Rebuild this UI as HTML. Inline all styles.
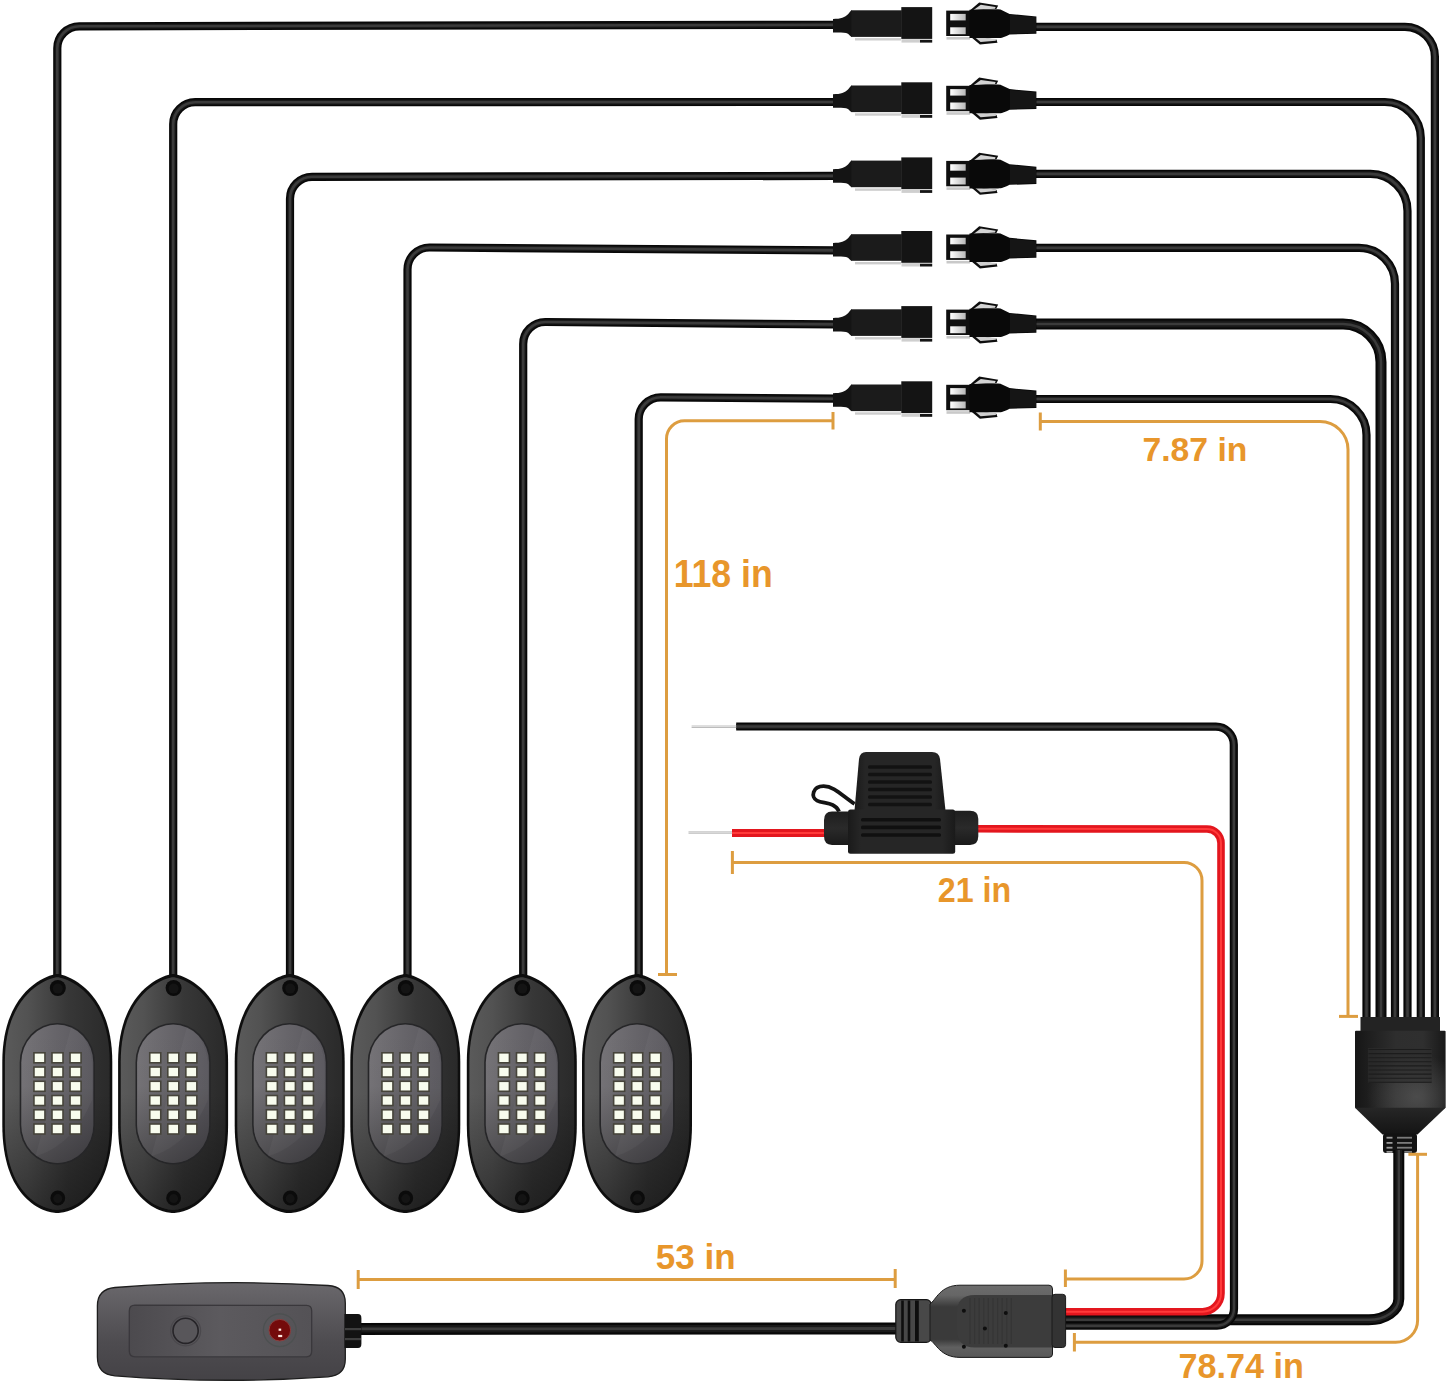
<!DOCTYPE html>
<html><head><meta charset="utf-8"><title>Rock light kit</title>
<style>
html,body{margin:0;padding:0;background:#fff;}
body{width:1448px;height:1383px;overflow:hidden;}
svg{display:block;}
text{font-family:"Liberation Sans",sans-serif;font-weight:bold;fill:#e8962b;}
</style></head><body>
<svg width="1448" height="1383" viewBox="0 0 1448 1383">
<defs>
<linearGradient id="pin" x1="0" y1="0" x2="1" y2="0"><stop offset="0" stop-color="#ffffff"/><stop offset="0.35" stop-color="#e6e6e6"/><stop offset="1" stop-color="#b9b9b9"/></linearGradient>
<linearGradient id="lens" x1="0" y1="0" x2="1" y2="0"><stop offset="0" stop-color="#767478"/><stop offset="0.5" stop-color="#666469"/><stop offset="1" stop-color="#58565c"/></linearGradient>
<linearGradient id="lenssh" x1="0" y1="0" x2="0" y2="1"><stop offset="0" stop-color="#000" stop-opacity="0"/><stop offset="0.45" stop-color="#000" stop-opacity="0.02"/><stop offset="1" stop-color="#000" stop-opacity="0.33"/></linearGradient>
<linearGradient id="pod" x1="0" y1="0" x2="1" y2="0"><stop offset="0" stop-color="#5a5a5a"/><stop offset="0.22" stop-color="#525252"/><stop offset="0.6" stop-color="#373737"/><stop offset="1" stop-color="#2a2a2a"/></linearGradient>
<linearGradient id="podsh" x1="0" y1="0" x2="0" y2="1"><stop offset="0" stop-color="#000" stop-opacity="0"/><stop offset="0.5" stop-color="#000" stop-opacity="0"/><stop offset="1" stop-color="#000" stop-opacity="0.4"/></linearGradient>
<linearGradient id="spl" x1="0" y1="0" x2="1" y2="0"><stop offset="0" stop-color="#161616"/><stop offset="0.45" stop-color="#2e2e2e"/><stop offset="0.75" stop-color="#2f2f2f"/><stop offset="1" stop-color="#181818"/></linearGradient>
<linearGradient id="spl2" x1="0" y1="0" x2="0" y2="1"><stop offset="0" stop-color="#262626"/><stop offset="1" stop-color="#141414"/></linearGradient>
<linearGradient id="fcap" x1="0" y1="0" x2="1" y2="0"><stop offset="0" stop-color="#1a1a1a"/><stop offset="0.12" stop-color="#262626"/><stop offset="0.88" stop-color="#262626"/><stop offset="1" stop-color="#1a1a1a"/></linearGradient>
<linearGradient id="fend" x1="0" y1="0" x2="0" y2="1"><stop offset="0" stop-color="#1e1e1e"/><stop offset="0.5" stop-color="#2a2a2a"/><stop offset="1" stop-color="#1a1a1a"/></linearGradient>
<linearGradient id="rem" x1="0" y1="0" x2="0" y2="1"><stop offset="0" stop-color="#6a686c"/><stop offset="0.25" stop-color="#5e5c60"/><stop offset="0.6" stop-color="#4e4c50"/><stop offset="1" stop-color="#444246"/></linearGradient>
<linearGradient id="remp" x1="0" y1="0" x2="1" y2="0"><stop offset="0" stop-color="#4c4a4e"/><stop offset="0.5" stop-color="#5c5a5e"/><stop offset="1" stop-color="#545256"/></linearGradient>
<linearGradient id="cc" x1="0" y1="0" x2="0" y2="1"><stop offset="0" stop-color="#6c6c6c"/><stop offset="0.14" stop-color="#666"/><stop offset="0.3" stop-color="#3a3a3a"/><stop offset="0.75" stop-color="#3a3a3a"/><stop offset="0.86" stop-color="#606060"/><stop offset="1" stop-color="#585858"/></linearGradient>
<radialGradient id="splhl" cx="0.68" cy="0.85" r="0.55"><stop offset="0" stop-color="#555" stop-opacity="0.75"/><stop offset="1" stop-color="#555" stop-opacity="0"/></radialGradient>
</defs>
<rect width="1448" height="1383" fill="#fff"/>

<path d="M57.3,985 L57.3,48.3 A22,22 0 0 1 79.3,26.3 L836,24.8" fill="none" stroke="#070707" stroke-width="8.2" stroke-linejoin="round"/>
<path d="M57.3,985 L57.3,48.3 A22,22 0 0 1 79.3,26.3 L836,24.8" fill="none" stroke="#191919" stroke-width="5.08" stroke-linejoin="round"/>
<path d="M57.3,985 L57.3,48.3 A22,22 0 0 1 79.3,26.3 L836,24.8" fill="none" stroke="#3b3b3b" stroke-width="2.6" stroke-linejoin="round"/>
<path d="M173.2,985 L173.2,124.2 A22,22 0 0 1 195.2,102.2 L836,102" fill="none" stroke="#070707" stroke-width="8.2" stroke-linejoin="round"/>
<path d="M173.2,985 L173.2,124.2 A22,22 0 0 1 195.2,102.2 L836,102" fill="none" stroke="#191919" stroke-width="5.08" stroke-linejoin="round"/>
<path d="M173.2,985 L173.2,124.2 A22,22 0 0 1 195.2,102.2 L836,102" fill="none" stroke="#3b3b3b" stroke-width="2.6" stroke-linejoin="round"/>
<path d="M290,985 L290,198.8 A22,22 0 0 1 312,176.8 L836,175.9" fill="none" stroke="#070707" stroke-width="8.2" stroke-linejoin="round"/>
<path d="M290,985 L290,198.8 A22,22 0 0 1 312,176.8 L836,175.9" fill="none" stroke="#191919" stroke-width="5.08" stroke-linejoin="round"/>
<path d="M290,985 L290,198.8 A22,22 0 0 1 312,176.8 L836,175.9" fill="none" stroke="#3b3b3b" stroke-width="2.6" stroke-linejoin="round"/>
<path d="M407.5,985 L407.5,269.5 A22,22 0 0 1 429.5,247.5 L836,250.4" fill="none" stroke="#070707" stroke-width="8.2" stroke-linejoin="round"/>
<path d="M407.5,985 L407.5,269.5 A22,22 0 0 1 429.5,247.5 L836,250.4" fill="none" stroke="#191919" stroke-width="5.08" stroke-linejoin="round"/>
<path d="M407.5,985 L407.5,269.5 A22,22 0 0 1 429.5,247.5 L836,250.4" fill="none" stroke="#3b3b3b" stroke-width="2.6" stroke-linejoin="round"/>
<path d="M523.2,985 L523.2,344 A22,22 0 0 1 545.2,322 L836,324.4" fill="none" stroke="#070707" stroke-width="8.2" stroke-linejoin="round"/>
<path d="M523.2,985 L523.2,344 A22,22 0 0 1 545.2,322 L836,324.4" fill="none" stroke="#191919" stroke-width="5.08" stroke-linejoin="round"/>
<path d="M523.2,985 L523.2,344 A22,22 0 0 1 545.2,322 L836,324.4" fill="none" stroke="#3b3b3b" stroke-width="2.6" stroke-linejoin="round"/>
<path d="M638.7,985 L638.7,419.3 A22,22 0 0 1 660.7,397.3 L836,398.7" fill="none" stroke="#070707" stroke-width="8.2" stroke-linejoin="round"/>
<path d="M638.7,985 L638.7,419.3 A22,22 0 0 1 660.7,397.3 L836,398.7" fill="none" stroke="#191919" stroke-width="5.08" stroke-linejoin="round"/>
<path d="M638.7,985 L638.7,419.3 A22,22 0 0 1 660.7,397.3 L836,398.7" fill="none" stroke="#3b3b3b" stroke-width="2.6" stroke-linejoin="round"/>
<path d="M1034,26.8 L1404.9,26.8 A30,30 0 0 1 1434.9,56.8 L1434.9,1025" fill="none" stroke="#070707" stroke-width="8.2" stroke-linejoin="round"/>
<path d="M1034,26.8 L1404.9,26.8 A30,30 0 0 1 1434.9,56.8 L1434.9,1025" fill="none" stroke="#191919" stroke-width="5.08" stroke-linejoin="round"/>
<path d="M1034,26.8 L1404.9,26.8 A30,30 0 0 1 1434.9,56.8 L1434.9,1025" fill="none" stroke="#3b3b3b" stroke-width="2.6" stroke-linejoin="round"/>
<path d="M1034,102 L1384.8,102 A36,36 0 0 1 1420.8,138 L1420.8,1025" fill="none" stroke="#070707" stroke-width="8.2" stroke-linejoin="round"/>
<path d="M1034,102 L1384.8,102 A36,36 0 0 1 1420.8,138 L1420.8,1025" fill="none" stroke="#191919" stroke-width="5.08" stroke-linejoin="round"/>
<path d="M1034,102 L1384.8,102 A36,36 0 0 1 1420.8,138 L1420.8,1025" fill="none" stroke="#3b3b3b" stroke-width="2.6" stroke-linejoin="round"/>
<path d="M1034,173.9 L1370.5,173.9 A37,37 0 0 1 1407.5,210.9 L1407.5,1025" fill="none" stroke="#070707" stroke-width="8.2" stroke-linejoin="round"/>
<path d="M1034,173.9 L1370.5,173.9 A37,37 0 0 1 1407.5,210.9 L1407.5,1025" fill="none" stroke="#191919" stroke-width="5.08" stroke-linejoin="round"/>
<path d="M1034,173.9 L1370.5,173.9 A37,37 0 0 1 1407.5,210.9 L1407.5,1025" fill="none" stroke="#3b3b3b" stroke-width="2.6" stroke-linejoin="round"/>
<path d="M1034,247.8 L1359,247.8 A36,36 0 0 1 1395,283.8 L1395,1025" fill="none" stroke="#070707" stroke-width="8.2" stroke-linejoin="round"/>
<path d="M1034,247.8 L1359,247.8 A36,36 0 0 1 1395,283.8 L1395,1025" fill="none" stroke="#191919" stroke-width="5.08" stroke-linejoin="round"/>
<path d="M1034,247.8 L1359,247.8 A36,36 0 0 1 1395,283.8 L1395,1025" fill="none" stroke="#3b3b3b" stroke-width="2.6" stroke-linejoin="round"/>
<path d="M1034,324 L1343,324 A38,38 0 0 1 1381,362 L1381,1025" fill="none" stroke="#070707" stroke-width="11" stroke-linejoin="round"/>
<path d="M1034,324 L1343,324 A38,38 0 0 1 1381,362 L1381,1025" fill="none" stroke="#191919" stroke-width="6.82" stroke-linejoin="round"/>
<path d="M1034,324 L1343,324 A38,38 0 0 1 1381,362 L1381,1025" fill="none" stroke="#3b3b3b" stroke-width="2.6" stroke-linejoin="round"/>
<path d="M1034,399 L1330.5,399 A36,36 0 0 1 1366.5,435 L1366.5,1025" fill="none" stroke="#070707" stroke-width="8.2" stroke-linejoin="round"/>
<path d="M1034,399 L1330.5,399 A36,36 0 0 1 1366.5,435 L1366.5,1025" fill="none" stroke="#191919" stroke-width="5.08" stroke-linejoin="round"/>
<path d="M1034,399 L1330.5,399 A36,36 0 0 1 1366.5,435 L1366.5,1025" fill="none" stroke="#3b3b3b" stroke-width="2.6" stroke-linejoin="round"/>
<g transform="translate(0,22.8)"><path d="M833,-3.8 C841,-3.8 845,-5.5 848,-8.5 C849.5,-10 850.5,-12.5 852,-12.5 L852,14.1 C850.5,14.1 849.5,12 848,11 C845,9.5 841,9.7 833,9.7 Z" fill="#141414"/><rect x="851.2" y="-12.5" width="50.6" height="26.6" fill="#1b1b1b"/><rect x="855" y="15.3" width="46" height="2.4" fill="#cdcdcd"/><rect x="901.3" y="-15.7" width="30.9" height="31.8" fill="#141414"/><rect x="901.5" y="16.4" width="18.5" height="3.4" fill="#cfcfcf"/><rect x="920" y="17" width="12.2" height="2.8" fill="#151515"/></g>
<g transform="translate(0,23.3)"><path d="M969.5,-12.5 L979.2,-20.9 L998.2,-17.8 L996.4,-14.2 L985,-13.5 L971,-11 Z" fill="#0e0e0e"/><path d="M973.5,-13.2 L980.8,-18.6 L995.6,-16.4 L995,-14.6 Z" fill="#d4d4d4"/><path d="M969.5,12.5 L979.9,21.2 L997.5,19.4 L996.4,16.2 L985,15 L971,11 Z" fill="#0e0e0e"/><path d="M974.5,13.6 L980.6,18.8 L995.8,17.4 L996,15.8 Z" fill="#d0d0d0"/><rect x="946.2" y="-12.7" width="24" height="25.4" fill="#0f0f0f"/><rect x="946.5" y="13.7" width="23.5" height="2.6" fill="#c9c9c9"/><rect x="950.2" y="-9.4" width="15.5" height="6.5" fill="url(#pin)"/><rect x="950.2" y="4" width="15.5" height="6.9" fill="url(#pin)"/><path d="M969.5,-13.6 L998,-14 Q1001,-14 1002,-13 L1009.6,-9.4 L1036.4,-6.9 L1036.4,10.5 L1009.6,11.2 C1004,14 1002,14.8 998,14.8 L969.5,14.8 Z" fill="#090909"/><path d="M1010,-8.5 L1036,-6 L1036,9.5 L1010,10.5 Z" fill="#151515"/></g>
<g transform="translate(0,98)"><path d="M833,-3.8 C841,-3.8 845,-5.5 848,-8.5 C849.5,-10 850.5,-12.5 852,-12.5 L852,14.1 C850.5,14.1 849.5,12 848,11 C845,9.5 841,9.7 833,9.7 Z" fill="#141414"/><rect x="851.2" y="-12.5" width="50.6" height="26.6" fill="#1b1b1b"/><rect x="855" y="15.3" width="46" height="2.4" fill="#cdcdcd"/><rect x="901.3" y="-15.7" width="30.9" height="31.8" fill="#141414"/><rect x="901.5" y="16.4" width="18.5" height="3.4" fill="#cfcfcf"/><rect x="920" y="17" width="12.2" height="2.8" fill="#151515"/></g>
<g transform="translate(0,98.5)"><path d="M969.5,-12.5 L979.2,-20.9 L998.2,-17.8 L996.4,-14.2 L985,-13.5 L971,-11 Z" fill="#0e0e0e"/><path d="M973.5,-13.2 L980.8,-18.6 L995.6,-16.4 L995,-14.6 Z" fill="#d4d4d4"/><path d="M969.5,12.5 L979.9,21.2 L997.5,19.4 L996.4,16.2 L985,15 L971,11 Z" fill="#0e0e0e"/><path d="M974.5,13.6 L980.6,18.8 L995.8,17.4 L996,15.8 Z" fill="#d0d0d0"/><rect x="946.2" y="-12.7" width="24" height="25.4" fill="#0f0f0f"/><rect x="946.5" y="13.7" width="23.5" height="2.6" fill="#c9c9c9"/><rect x="950.2" y="-9.4" width="15.5" height="6.5" fill="url(#pin)"/><rect x="950.2" y="4" width="15.5" height="6.9" fill="url(#pin)"/><path d="M969.5,-13.6 L998,-14 Q1001,-14 1002,-13 L1009.6,-9.4 L1036.4,-6.9 L1036.4,10.5 L1009.6,11.2 C1004,14 1002,14.8 998,14.8 L969.5,14.8 Z" fill="#090909"/><path d="M1010,-8.5 L1036,-6 L1036,9.5 L1010,10.5 Z" fill="#151515"/></g>
<g transform="translate(0,173.1)"><path d="M833,-3.8 C841,-3.8 845,-5.5 848,-8.5 C849.5,-10 850.5,-12.5 852,-12.5 L852,14.1 C850.5,14.1 849.5,12 848,11 C845,9.5 841,9.7 833,9.7 Z" fill="#141414"/><rect x="851.2" y="-12.5" width="50.6" height="26.6" fill="#1b1b1b"/><rect x="855" y="15.3" width="46" height="2.4" fill="#cdcdcd"/><rect x="901.3" y="-15.7" width="30.9" height="31.8" fill="#141414"/><rect x="901.5" y="16.4" width="18.5" height="3.4" fill="#cfcfcf"/><rect x="920" y="17" width="12.2" height="2.8" fill="#151515"/></g>
<g transform="translate(0,173.6)"><path d="M969.5,-12.5 L979.2,-20.9 L998.2,-17.8 L996.4,-14.2 L985,-13.5 L971,-11 Z" fill="#0e0e0e"/><path d="M973.5,-13.2 L980.8,-18.6 L995.6,-16.4 L995,-14.6 Z" fill="#d4d4d4"/><path d="M969.5,12.5 L979.9,21.2 L997.5,19.4 L996.4,16.2 L985,15 L971,11 Z" fill="#0e0e0e"/><path d="M974.5,13.6 L980.6,18.8 L995.8,17.4 L996,15.8 Z" fill="#d0d0d0"/><rect x="946.2" y="-12.7" width="24" height="25.4" fill="#0f0f0f"/><rect x="946.5" y="13.7" width="23.5" height="2.6" fill="#c9c9c9"/><rect x="950.2" y="-9.4" width="15.5" height="6.5" fill="url(#pin)"/><rect x="950.2" y="4" width="15.5" height="6.9" fill="url(#pin)"/><path d="M969.5,-13.6 L998,-14 Q1001,-14 1002,-13 L1009.6,-9.4 L1036.4,-6.9 L1036.4,10.5 L1009.6,11.2 C1004,14 1002,14.8 998,14.8 L969.5,14.8 Z" fill="#090909"/><path d="M1010,-8.5 L1036,-6 L1036,9.5 L1010,10.5 Z" fill="#151515"/></g>
<g transform="translate(0,246.7)"><path d="M833,-3.8 C841,-3.8 845,-5.5 848,-8.5 C849.5,-10 850.5,-12.5 852,-12.5 L852,14.1 C850.5,14.1 849.5,12 848,11 C845,9.5 841,9.7 833,9.7 Z" fill="#141414"/><rect x="851.2" y="-12.5" width="50.6" height="26.6" fill="#1b1b1b"/><rect x="855" y="15.3" width="46" height="2.4" fill="#cdcdcd"/><rect x="901.3" y="-15.7" width="30.9" height="31.8" fill="#141414"/><rect x="901.5" y="16.4" width="18.5" height="3.4" fill="#cfcfcf"/><rect x="920" y="17" width="12.2" height="2.8" fill="#151515"/></g>
<g transform="translate(0,247.2)"><path d="M969.5,-12.5 L979.2,-20.9 L998.2,-17.8 L996.4,-14.2 L985,-13.5 L971,-11 Z" fill="#0e0e0e"/><path d="M973.5,-13.2 L980.8,-18.6 L995.6,-16.4 L995,-14.6 Z" fill="#d4d4d4"/><path d="M969.5,12.5 L979.9,21.2 L997.5,19.4 L996.4,16.2 L985,15 L971,11 Z" fill="#0e0e0e"/><path d="M974.5,13.6 L980.6,18.8 L995.8,17.4 L996,15.8 Z" fill="#d0d0d0"/><rect x="946.2" y="-12.7" width="24" height="25.4" fill="#0f0f0f"/><rect x="946.5" y="13.7" width="23.5" height="2.6" fill="#c9c9c9"/><rect x="950.2" y="-9.4" width="15.5" height="6.5" fill="url(#pin)"/><rect x="950.2" y="4" width="15.5" height="6.9" fill="url(#pin)"/><path d="M969.5,-13.6 L998,-14 Q1001,-14 1002,-13 L1009.6,-9.4 L1036.4,-6.9 L1036.4,10.5 L1009.6,11.2 C1004,14 1002,14.8 998,14.8 L969.5,14.8 Z" fill="#090909"/><path d="M1010,-8.5 L1036,-6 L1036,9.5 L1010,10.5 Z" fill="#151515"/></g>
<g transform="translate(0,321.8)"><path d="M833,-3.8 C841,-3.8 845,-5.5 848,-8.5 C849.5,-10 850.5,-12.5 852,-12.5 L852,14.1 C850.5,14.1 849.5,12 848,11 C845,9.5 841,9.7 833,9.7 Z" fill="#141414"/><rect x="851.2" y="-12.5" width="50.6" height="26.6" fill="#1b1b1b"/><rect x="855" y="15.3" width="46" height="2.4" fill="#cdcdcd"/><rect x="901.3" y="-15.7" width="30.9" height="31.8" fill="#141414"/><rect x="901.5" y="16.4" width="18.5" height="3.4" fill="#cfcfcf"/><rect x="920" y="17" width="12.2" height="2.8" fill="#151515"/></g>
<g transform="translate(0,322.3)"><path d="M969.5,-12.5 L979.2,-20.9 L998.2,-17.8 L996.4,-14.2 L985,-13.5 L971,-11 Z" fill="#0e0e0e"/><path d="M973.5,-13.2 L980.8,-18.6 L995.6,-16.4 L995,-14.6 Z" fill="#d4d4d4"/><path d="M969.5,12.5 L979.9,21.2 L997.5,19.4 L996.4,16.2 L985,15 L971,11 Z" fill="#0e0e0e"/><path d="M974.5,13.6 L980.6,18.8 L995.8,17.4 L996,15.8 Z" fill="#d0d0d0"/><rect x="946.2" y="-12.7" width="24" height="25.4" fill="#0f0f0f"/><rect x="946.5" y="13.7" width="23.5" height="2.6" fill="#c9c9c9"/><rect x="950.2" y="-9.4" width="15.5" height="6.5" fill="url(#pin)"/><rect x="950.2" y="4" width="15.5" height="6.9" fill="url(#pin)"/><path d="M969.5,-13.6 L998,-14 Q1001,-14 1002,-13 L1009.6,-9.4 L1036.4,-6.9 L1036.4,10.5 L1009.6,11.2 C1004,14 1002,14.8 998,14.8 L969.5,14.8 Z" fill="#090909"/><path d="M1010,-8.5 L1036,-6 L1036,9.5 L1010,10.5 Z" fill="#151515"/></g>
<g transform="translate(0,397)"><path d="M833,-3.8 C841,-3.8 845,-5.5 848,-8.5 C849.5,-10 850.5,-12.5 852,-12.5 L852,14.1 C850.5,14.1 849.5,12 848,11 C845,9.5 841,9.7 833,9.7 Z" fill="#141414"/><rect x="851.2" y="-12.5" width="50.6" height="26.6" fill="#1b1b1b"/><rect x="855" y="15.3" width="46" height="2.4" fill="#cdcdcd"/><rect x="901.3" y="-15.7" width="30.9" height="31.8" fill="#141414"/><rect x="901.5" y="16.4" width="18.5" height="3.4" fill="#cfcfcf"/><rect x="920" y="17" width="12.2" height="2.8" fill="#151515"/></g>
<g transform="translate(0,397.5)"><path d="M969.5,-12.5 L979.2,-20.9 L998.2,-17.8 L996.4,-14.2 L985,-13.5 L971,-11 Z" fill="#0e0e0e"/><path d="M973.5,-13.2 L980.8,-18.6 L995.6,-16.4 L995,-14.6 Z" fill="#d4d4d4"/><path d="M969.5,12.5 L979.9,21.2 L997.5,19.4 L996.4,16.2 L985,15 L971,11 Z" fill="#0e0e0e"/><path d="M974.5,13.6 L980.6,18.8 L995.8,17.4 L996,15.8 Z" fill="#d0d0d0"/><rect x="946.2" y="-12.7" width="24" height="25.4" fill="#0f0f0f"/><rect x="946.5" y="13.7" width="23.5" height="2.6" fill="#c9c9c9"/><rect x="950.2" y="-9.4" width="15.5" height="6.5" fill="url(#pin)"/><rect x="950.2" y="4" width="15.5" height="6.9" fill="url(#pin)"/><path d="M969.5,-13.6 L998,-14 Q1001,-14 1002,-13 L1009.6,-9.4 L1036.4,-6.9 L1036.4,10.5 L1009.6,11.2 C1004,14 1002,14.8 998,14.8 L969.5,14.8 Z" fill="#090909"/><path d="M1010,-8.5 L1036,-6 L1036,9.5 L1010,10.5 Z" fill="#151515"/></g>
<path d="M2.299999999999997,1062.0 C2.299999999999997,988.0 50.3,974.0 57.3,974.0 C64.3,974.0 112.3,988.0 112.3,1062.0 L112.3,1125.0 C112.3,1199.0 71.3,1213.0 57.3,1213.0 C43.3,1213.0 2.299999999999997,1199.0 2.299999999999997,1125.0 Z" fill="#0e0e0e"/><path d="M4.899999999999999,1062.0 C4.899999999999999,991.0 50.3,977.2 57.3,977.2 C64.3,977.2 109.69999999999999,991.0 109.69999999999999,1062.0 L109.69999999999999,1125.0 C109.69999999999999,1196.0 71.3,1209.8 57.3,1209.8 C43.3,1209.8 4.899999999999999,1196.0 4.899999999999999,1125.0 Z" fill="url(#pod)"/><path d="M4.899999999999999,1062.0 C4.899999999999999,991.0 50.3,977.2 57.3,977.2 C64.3,977.2 109.69999999999999,991.0 109.69999999999999,1062.0 L109.69999999999999,1125.0 C109.69999999999999,1196.0 71.3,1209.8 57.3,1209.8 C43.3,1209.8 4.899999999999999,1196.0 4.899999999999999,1125.0 Z" fill="url(#podsh)"/><circle cx="57.8" cy="988" r="8" fill="#0b0b0b"/><circle cx="57.8" cy="988.6" r="5" fill="#141414"/><circle cx="57.8" cy="1198" r="7.4" fill="#0b0b0b"/><circle cx="57.8" cy="1198.6" r="4.5" fill="#141414"/><rect x="19.699999999999996" y="1022.9" width="75.2" height="141.7" rx="37.6" ry="39.6" fill="#262628"/><rect x="21.299999999999997" y="1024.5" width="72" height="138.5" rx="36" ry="38" fill="url(#lens)"/><rect x="21.299999999999997" y="1024.5" width="72" height="138.5" rx="36" ry="38" fill="url(#lenssh)"/><path d="M71.3,1026.5 C87.3,1034.5 92.3,1054.5 92.3,1069.5 L92.3,1099.5 C77.3,1134.5 57.3,1149.5 35.3,1156.5 Z" fill="#fff" opacity="0.035"/><rect x="33.15" y="1052.00" width="12.6" height="11.6" fill="#46443a"/><rect x="34.75" y="1053.60" width="9.4" height="8.4" fill="#f8fcee"/><rect x="51.20" y="1052.00" width="12.6" height="11.6" fill="#46443a"/><rect x="52.80" y="1053.60" width="9.4" height="8.4" fill="#f8fcee"/><rect x="69.25" y="1052.00" width="12.6" height="11.6" fill="#46443a"/><rect x="70.85" y="1053.60" width="9.4" height="8.4" fill="#f8fcee"/><rect x="33.15" y="1066.24" width="12.6" height="11.6" fill="#46443a"/><rect x="34.75" y="1067.84" width="9.4" height="8.4" fill="#f8fcee"/><rect x="51.20" y="1066.24" width="12.6" height="11.6" fill="#46443a"/><rect x="52.80" y="1067.84" width="9.4" height="8.4" fill="#f8fcee"/><rect x="69.25" y="1066.24" width="12.6" height="11.6" fill="#46443a"/><rect x="70.85" y="1067.84" width="9.4" height="8.4" fill="#f8fcee"/><rect x="33.15" y="1080.48" width="12.6" height="11.6" fill="#46443a"/><rect x="34.75" y="1082.08" width="9.4" height="8.4" fill="#f8fcee"/><rect x="51.20" y="1080.48" width="12.6" height="11.6" fill="#46443a"/><rect x="52.80" y="1082.08" width="9.4" height="8.4" fill="#f8fcee"/><rect x="69.25" y="1080.48" width="12.6" height="11.6" fill="#46443a"/><rect x="70.85" y="1082.08" width="9.4" height="8.4" fill="#f8fcee"/><rect x="33.15" y="1094.72" width="12.6" height="11.6" fill="#46443a"/><rect x="34.75" y="1096.32" width="9.4" height="8.4" fill="#f8fcee"/><rect x="51.20" y="1094.72" width="12.6" height="11.6" fill="#46443a"/><rect x="52.80" y="1096.32" width="9.4" height="8.4" fill="#f8fcee"/><rect x="69.25" y="1094.72" width="12.6" height="11.6" fill="#46443a"/><rect x="70.85" y="1096.32" width="9.4" height="8.4" fill="#f8fcee"/><rect x="33.15" y="1108.96" width="12.6" height="11.6" fill="#46443a"/><rect x="34.75" y="1110.56" width="9.4" height="8.4" fill="#f8fcee"/><rect x="51.20" y="1108.96" width="12.6" height="11.6" fill="#46443a"/><rect x="52.80" y="1110.56" width="9.4" height="8.4" fill="#f8fcee"/><rect x="69.25" y="1108.96" width="12.6" height="11.6" fill="#46443a"/><rect x="70.85" y="1110.56" width="9.4" height="8.4" fill="#f8fcee"/><rect x="33.15" y="1123.20" width="12.6" height="11.6" fill="#46443a"/><rect x="34.75" y="1124.80" width="9.4" height="8.4" fill="#f8fcee"/><rect x="51.20" y="1123.20" width="12.6" height="11.6" fill="#46443a"/><rect x="52.80" y="1124.80" width="9.4" height="8.4" fill="#f8fcee"/><rect x="69.25" y="1123.20" width="12.6" height="11.6" fill="#46443a"/><rect x="70.85" y="1124.80" width="9.4" height="8.4" fill="#f8fcee"/>
<path d="M118.1,1062.0 C118.1,988.0 166.1,974.0 173.1,974.0 C180.1,974.0 228.1,988.0 228.1,1062.0 L228.1,1125.0 C228.1,1199.0 187.1,1213.0 173.1,1213.0 C159.1,1213.0 118.1,1199.0 118.1,1125.0 Z" fill="#0e0e0e"/><path d="M120.69999999999999,1062.0 C120.69999999999999,991.0 166.1,977.2 173.1,977.2 C180.1,977.2 225.5,991.0 225.5,1062.0 L225.5,1125.0 C225.5,1196.0 187.1,1209.8 173.1,1209.8 C159.1,1209.8 120.69999999999999,1196.0 120.69999999999999,1125.0 Z" fill="url(#pod)"/><path d="M120.69999999999999,1062.0 C120.69999999999999,991.0 166.1,977.2 173.1,977.2 C180.1,977.2 225.5,991.0 225.5,1062.0 L225.5,1125.0 C225.5,1196.0 187.1,1209.8 173.1,1209.8 C159.1,1209.8 120.69999999999999,1196.0 120.69999999999999,1125.0 Z" fill="url(#podsh)"/><circle cx="173.6" cy="988" r="8" fill="#0b0b0b"/><circle cx="173.6" cy="988.6" r="5" fill="#141414"/><circle cx="173.6" cy="1198" r="7.4" fill="#0b0b0b"/><circle cx="173.6" cy="1198.6" r="4.5" fill="#141414"/><rect x="135.5" y="1022.9" width="75.2" height="141.7" rx="37.6" ry="39.6" fill="#262628"/><rect x="137.1" y="1024.5" width="72" height="138.5" rx="36" ry="38" fill="url(#lens)"/><rect x="137.1" y="1024.5" width="72" height="138.5" rx="36" ry="38" fill="url(#lenssh)"/><path d="M187.1,1026.5 C203.1,1034.5 208.1,1054.5 208.1,1069.5 L208.1,1099.5 C193.1,1134.5 173.1,1149.5 151.1,1156.5 Z" fill="#fff" opacity="0.035"/><rect x="148.95" y="1052.00" width="12.6" height="11.6" fill="#46443a"/><rect x="150.55" y="1053.60" width="9.4" height="8.4" fill="#f8fcee"/><rect x="167.00" y="1052.00" width="12.6" height="11.6" fill="#46443a"/><rect x="168.60" y="1053.60" width="9.4" height="8.4" fill="#f8fcee"/><rect x="185.05" y="1052.00" width="12.6" height="11.6" fill="#46443a"/><rect x="186.65" y="1053.60" width="9.4" height="8.4" fill="#f8fcee"/><rect x="148.95" y="1066.24" width="12.6" height="11.6" fill="#46443a"/><rect x="150.55" y="1067.84" width="9.4" height="8.4" fill="#f8fcee"/><rect x="167.00" y="1066.24" width="12.6" height="11.6" fill="#46443a"/><rect x="168.60" y="1067.84" width="9.4" height="8.4" fill="#f8fcee"/><rect x="185.05" y="1066.24" width="12.6" height="11.6" fill="#46443a"/><rect x="186.65" y="1067.84" width="9.4" height="8.4" fill="#f8fcee"/><rect x="148.95" y="1080.48" width="12.6" height="11.6" fill="#46443a"/><rect x="150.55" y="1082.08" width="9.4" height="8.4" fill="#f8fcee"/><rect x="167.00" y="1080.48" width="12.6" height="11.6" fill="#46443a"/><rect x="168.60" y="1082.08" width="9.4" height="8.4" fill="#f8fcee"/><rect x="185.05" y="1080.48" width="12.6" height="11.6" fill="#46443a"/><rect x="186.65" y="1082.08" width="9.4" height="8.4" fill="#f8fcee"/><rect x="148.95" y="1094.72" width="12.6" height="11.6" fill="#46443a"/><rect x="150.55" y="1096.32" width="9.4" height="8.4" fill="#f8fcee"/><rect x="167.00" y="1094.72" width="12.6" height="11.6" fill="#46443a"/><rect x="168.60" y="1096.32" width="9.4" height="8.4" fill="#f8fcee"/><rect x="185.05" y="1094.72" width="12.6" height="11.6" fill="#46443a"/><rect x="186.65" y="1096.32" width="9.4" height="8.4" fill="#f8fcee"/><rect x="148.95" y="1108.96" width="12.6" height="11.6" fill="#46443a"/><rect x="150.55" y="1110.56" width="9.4" height="8.4" fill="#f8fcee"/><rect x="167.00" y="1108.96" width="12.6" height="11.6" fill="#46443a"/><rect x="168.60" y="1110.56" width="9.4" height="8.4" fill="#f8fcee"/><rect x="185.05" y="1108.96" width="12.6" height="11.6" fill="#46443a"/><rect x="186.65" y="1110.56" width="9.4" height="8.4" fill="#f8fcee"/><rect x="148.95" y="1123.20" width="12.6" height="11.6" fill="#46443a"/><rect x="150.55" y="1124.80" width="9.4" height="8.4" fill="#f8fcee"/><rect x="167.00" y="1123.20" width="12.6" height="11.6" fill="#46443a"/><rect x="168.60" y="1124.80" width="9.4" height="8.4" fill="#f8fcee"/><rect x="185.05" y="1123.20" width="12.6" height="11.6" fill="#46443a"/><rect x="186.65" y="1124.80" width="9.4" height="8.4" fill="#f8fcee"/>
<path d="M234.7,1062.0 C234.7,988.0 282.7,974.0 289.7,974.0 C296.7,974.0 344.7,988.0 344.7,1062.0 L344.7,1125.0 C344.7,1199.0 303.7,1213.0 289.7,1213.0 C275.7,1213.0 234.7,1199.0 234.7,1125.0 Z" fill="#0e0e0e"/><path d="M237.29999999999998,1062.0 C237.29999999999998,991.0 282.7,977.2 289.7,977.2 C296.7,977.2 342.09999999999997,991.0 342.09999999999997,1062.0 L342.09999999999997,1125.0 C342.09999999999997,1196.0 303.7,1209.8 289.7,1209.8 C275.7,1209.8 237.29999999999998,1196.0 237.29999999999998,1125.0 Z" fill="url(#pod)"/><path d="M237.29999999999998,1062.0 C237.29999999999998,991.0 282.7,977.2 289.7,977.2 C296.7,977.2 342.09999999999997,991.0 342.09999999999997,1062.0 L342.09999999999997,1125.0 C342.09999999999997,1196.0 303.7,1209.8 289.7,1209.8 C275.7,1209.8 237.29999999999998,1196.0 237.29999999999998,1125.0 Z" fill="url(#podsh)"/><circle cx="290.2" cy="988" r="8" fill="#0b0b0b"/><circle cx="290.2" cy="988.6" r="5" fill="#141414"/><circle cx="290.2" cy="1198" r="7.4" fill="#0b0b0b"/><circle cx="290.2" cy="1198.6" r="4.5" fill="#141414"/><rect x="252.1" y="1022.9" width="75.2" height="141.7" rx="37.6" ry="39.6" fill="#262628"/><rect x="253.7" y="1024.5" width="72" height="138.5" rx="36" ry="38" fill="url(#lens)"/><rect x="253.7" y="1024.5" width="72" height="138.5" rx="36" ry="38" fill="url(#lenssh)"/><path d="M303.7,1026.5 C319.7,1034.5 324.7,1054.5 324.7,1069.5 L324.7,1099.5 C309.7,1134.5 289.7,1149.5 267.7,1156.5 Z" fill="#fff" opacity="0.035"/><rect x="265.55" y="1052.00" width="12.6" height="11.6" fill="#46443a"/><rect x="267.15" y="1053.60" width="9.4" height="8.4" fill="#f8fcee"/><rect x="283.60" y="1052.00" width="12.6" height="11.6" fill="#46443a"/><rect x="285.20" y="1053.60" width="9.4" height="8.4" fill="#f8fcee"/><rect x="301.65" y="1052.00" width="12.6" height="11.6" fill="#46443a"/><rect x="303.25" y="1053.60" width="9.4" height="8.4" fill="#f8fcee"/><rect x="265.55" y="1066.24" width="12.6" height="11.6" fill="#46443a"/><rect x="267.15" y="1067.84" width="9.4" height="8.4" fill="#f8fcee"/><rect x="283.60" y="1066.24" width="12.6" height="11.6" fill="#46443a"/><rect x="285.20" y="1067.84" width="9.4" height="8.4" fill="#f8fcee"/><rect x="301.65" y="1066.24" width="12.6" height="11.6" fill="#46443a"/><rect x="303.25" y="1067.84" width="9.4" height="8.4" fill="#f8fcee"/><rect x="265.55" y="1080.48" width="12.6" height="11.6" fill="#46443a"/><rect x="267.15" y="1082.08" width="9.4" height="8.4" fill="#f8fcee"/><rect x="283.60" y="1080.48" width="12.6" height="11.6" fill="#46443a"/><rect x="285.20" y="1082.08" width="9.4" height="8.4" fill="#f8fcee"/><rect x="301.65" y="1080.48" width="12.6" height="11.6" fill="#46443a"/><rect x="303.25" y="1082.08" width="9.4" height="8.4" fill="#f8fcee"/><rect x="265.55" y="1094.72" width="12.6" height="11.6" fill="#46443a"/><rect x="267.15" y="1096.32" width="9.4" height="8.4" fill="#f8fcee"/><rect x="283.60" y="1094.72" width="12.6" height="11.6" fill="#46443a"/><rect x="285.20" y="1096.32" width="9.4" height="8.4" fill="#f8fcee"/><rect x="301.65" y="1094.72" width="12.6" height="11.6" fill="#46443a"/><rect x="303.25" y="1096.32" width="9.4" height="8.4" fill="#f8fcee"/><rect x="265.55" y="1108.96" width="12.6" height="11.6" fill="#46443a"/><rect x="267.15" y="1110.56" width="9.4" height="8.4" fill="#f8fcee"/><rect x="283.60" y="1108.96" width="12.6" height="11.6" fill="#46443a"/><rect x="285.20" y="1110.56" width="9.4" height="8.4" fill="#f8fcee"/><rect x="301.65" y="1108.96" width="12.6" height="11.6" fill="#46443a"/><rect x="303.25" y="1110.56" width="9.4" height="8.4" fill="#f8fcee"/><rect x="265.55" y="1123.20" width="12.6" height="11.6" fill="#46443a"/><rect x="267.15" y="1124.80" width="9.4" height="8.4" fill="#f8fcee"/><rect x="283.60" y="1123.20" width="12.6" height="11.6" fill="#46443a"/><rect x="285.20" y="1124.80" width="9.4" height="8.4" fill="#f8fcee"/><rect x="301.65" y="1123.20" width="12.6" height="11.6" fill="#46443a"/><rect x="303.25" y="1124.80" width="9.4" height="8.4" fill="#f8fcee"/>
<path d="M350.3,1062.0 C350.3,988.0 398.3,974.0 405.3,974.0 C412.3,974.0 460.3,988.0 460.3,1062.0 L460.3,1125.0 C460.3,1199.0 419.3,1213.0 405.3,1213.0 C391.3,1213.0 350.3,1199.0 350.3,1125.0 Z" fill="#0e0e0e"/><path d="M352.90000000000003,1062.0 C352.90000000000003,991.0 398.3,977.2 405.3,977.2 C412.3,977.2 457.7,991.0 457.7,1062.0 L457.7,1125.0 C457.7,1196.0 419.3,1209.8 405.3,1209.8 C391.3,1209.8 352.90000000000003,1196.0 352.90000000000003,1125.0 Z" fill="url(#pod)"/><path d="M352.90000000000003,1062.0 C352.90000000000003,991.0 398.3,977.2 405.3,977.2 C412.3,977.2 457.7,991.0 457.7,1062.0 L457.7,1125.0 C457.7,1196.0 419.3,1209.8 405.3,1209.8 C391.3,1209.8 352.90000000000003,1196.0 352.90000000000003,1125.0 Z" fill="url(#podsh)"/><circle cx="405.8" cy="988" r="8" fill="#0b0b0b"/><circle cx="405.8" cy="988.6" r="5" fill="#141414"/><circle cx="405.8" cy="1198" r="7.4" fill="#0b0b0b"/><circle cx="405.8" cy="1198.6" r="4.5" fill="#141414"/><rect x="367.7" y="1022.9" width="75.2" height="141.7" rx="37.6" ry="39.6" fill="#262628"/><rect x="369.3" y="1024.5" width="72" height="138.5" rx="36" ry="38" fill="url(#lens)"/><rect x="369.3" y="1024.5" width="72" height="138.5" rx="36" ry="38" fill="url(#lenssh)"/><path d="M419.3,1026.5 C435.3,1034.5 440.3,1054.5 440.3,1069.5 L440.3,1099.5 C425.3,1134.5 405.3,1149.5 383.3,1156.5 Z" fill="#fff" opacity="0.035"/><rect x="381.15" y="1052.00" width="12.6" height="11.6" fill="#46443a"/><rect x="382.75" y="1053.60" width="9.4" height="8.4" fill="#f8fcee"/><rect x="399.20" y="1052.00" width="12.6" height="11.6" fill="#46443a"/><rect x="400.80" y="1053.60" width="9.4" height="8.4" fill="#f8fcee"/><rect x="417.25" y="1052.00" width="12.6" height="11.6" fill="#46443a"/><rect x="418.85" y="1053.60" width="9.4" height="8.4" fill="#f8fcee"/><rect x="381.15" y="1066.24" width="12.6" height="11.6" fill="#46443a"/><rect x="382.75" y="1067.84" width="9.4" height="8.4" fill="#f8fcee"/><rect x="399.20" y="1066.24" width="12.6" height="11.6" fill="#46443a"/><rect x="400.80" y="1067.84" width="9.4" height="8.4" fill="#f8fcee"/><rect x="417.25" y="1066.24" width="12.6" height="11.6" fill="#46443a"/><rect x="418.85" y="1067.84" width="9.4" height="8.4" fill="#f8fcee"/><rect x="381.15" y="1080.48" width="12.6" height="11.6" fill="#46443a"/><rect x="382.75" y="1082.08" width="9.4" height="8.4" fill="#f8fcee"/><rect x="399.20" y="1080.48" width="12.6" height="11.6" fill="#46443a"/><rect x="400.80" y="1082.08" width="9.4" height="8.4" fill="#f8fcee"/><rect x="417.25" y="1080.48" width="12.6" height="11.6" fill="#46443a"/><rect x="418.85" y="1082.08" width="9.4" height="8.4" fill="#f8fcee"/><rect x="381.15" y="1094.72" width="12.6" height="11.6" fill="#46443a"/><rect x="382.75" y="1096.32" width="9.4" height="8.4" fill="#f8fcee"/><rect x="399.20" y="1094.72" width="12.6" height="11.6" fill="#46443a"/><rect x="400.80" y="1096.32" width="9.4" height="8.4" fill="#f8fcee"/><rect x="417.25" y="1094.72" width="12.6" height="11.6" fill="#46443a"/><rect x="418.85" y="1096.32" width="9.4" height="8.4" fill="#f8fcee"/><rect x="381.15" y="1108.96" width="12.6" height="11.6" fill="#46443a"/><rect x="382.75" y="1110.56" width="9.4" height="8.4" fill="#f8fcee"/><rect x="399.20" y="1108.96" width="12.6" height="11.6" fill="#46443a"/><rect x="400.80" y="1110.56" width="9.4" height="8.4" fill="#f8fcee"/><rect x="417.25" y="1108.96" width="12.6" height="11.6" fill="#46443a"/><rect x="418.85" y="1110.56" width="9.4" height="8.4" fill="#f8fcee"/><rect x="381.15" y="1123.20" width="12.6" height="11.6" fill="#46443a"/><rect x="382.75" y="1124.80" width="9.4" height="8.4" fill="#f8fcee"/><rect x="399.20" y="1123.20" width="12.6" height="11.6" fill="#46443a"/><rect x="400.80" y="1124.80" width="9.4" height="8.4" fill="#f8fcee"/><rect x="417.25" y="1123.20" width="12.6" height="11.6" fill="#46443a"/><rect x="418.85" y="1124.80" width="9.4" height="8.4" fill="#f8fcee"/>
<path d="M466.79999999999995,1062.0 C466.79999999999995,988.0 514.8,974.0 521.8,974.0 C528.8,974.0 576.8,988.0 576.8,1062.0 L576.8,1125.0 C576.8,1199.0 535.8,1213.0 521.8,1213.0 C507.79999999999995,1213.0 466.79999999999995,1199.0 466.79999999999995,1125.0 Z" fill="#0e0e0e"/><path d="M469.4,1062.0 C469.4,991.0 514.8,977.2 521.8,977.2 C528.8,977.2 574.1999999999999,991.0 574.1999999999999,1062.0 L574.1999999999999,1125.0 C574.1999999999999,1196.0 535.8,1209.8 521.8,1209.8 C507.79999999999995,1209.8 469.4,1196.0 469.4,1125.0 Z" fill="url(#pod)"/><path d="M469.4,1062.0 C469.4,991.0 514.8,977.2 521.8,977.2 C528.8,977.2 574.1999999999999,991.0 574.1999999999999,1062.0 L574.1999999999999,1125.0 C574.1999999999999,1196.0 535.8,1209.8 521.8,1209.8 C507.79999999999995,1209.8 469.4,1196.0 469.4,1125.0 Z" fill="url(#podsh)"/><circle cx="522.3" cy="988" r="8" fill="#0b0b0b"/><circle cx="522.3" cy="988.6" r="5" fill="#141414"/><circle cx="522.3" cy="1198" r="7.4" fill="#0b0b0b"/><circle cx="522.3" cy="1198.6" r="4.5" fill="#141414"/><rect x="484.19999999999993" y="1022.9" width="75.2" height="141.7" rx="37.6" ry="39.6" fill="#262628"/><rect x="485.79999999999995" y="1024.5" width="72" height="138.5" rx="36" ry="38" fill="url(#lens)"/><rect x="485.79999999999995" y="1024.5" width="72" height="138.5" rx="36" ry="38" fill="url(#lenssh)"/><path d="M535.8,1026.5 C551.8,1034.5 556.8,1054.5 556.8,1069.5 L556.8,1099.5 C541.8,1134.5 521.8,1149.5 499.79999999999995,1156.5 Z" fill="#fff" opacity="0.035"/><rect x="497.65" y="1052.00" width="12.6" height="11.6" fill="#46443a"/><rect x="499.25" y="1053.60" width="9.4" height="8.4" fill="#f8fcee"/><rect x="515.70" y="1052.00" width="12.6" height="11.6" fill="#46443a"/><rect x="517.30" y="1053.60" width="9.4" height="8.4" fill="#f8fcee"/><rect x="533.75" y="1052.00" width="12.6" height="11.6" fill="#46443a"/><rect x="535.35" y="1053.60" width="9.4" height="8.4" fill="#f8fcee"/><rect x="497.65" y="1066.24" width="12.6" height="11.6" fill="#46443a"/><rect x="499.25" y="1067.84" width="9.4" height="8.4" fill="#f8fcee"/><rect x="515.70" y="1066.24" width="12.6" height="11.6" fill="#46443a"/><rect x="517.30" y="1067.84" width="9.4" height="8.4" fill="#f8fcee"/><rect x="533.75" y="1066.24" width="12.6" height="11.6" fill="#46443a"/><rect x="535.35" y="1067.84" width="9.4" height="8.4" fill="#f8fcee"/><rect x="497.65" y="1080.48" width="12.6" height="11.6" fill="#46443a"/><rect x="499.25" y="1082.08" width="9.4" height="8.4" fill="#f8fcee"/><rect x="515.70" y="1080.48" width="12.6" height="11.6" fill="#46443a"/><rect x="517.30" y="1082.08" width="9.4" height="8.4" fill="#f8fcee"/><rect x="533.75" y="1080.48" width="12.6" height="11.6" fill="#46443a"/><rect x="535.35" y="1082.08" width="9.4" height="8.4" fill="#f8fcee"/><rect x="497.65" y="1094.72" width="12.6" height="11.6" fill="#46443a"/><rect x="499.25" y="1096.32" width="9.4" height="8.4" fill="#f8fcee"/><rect x="515.70" y="1094.72" width="12.6" height="11.6" fill="#46443a"/><rect x="517.30" y="1096.32" width="9.4" height="8.4" fill="#f8fcee"/><rect x="533.75" y="1094.72" width="12.6" height="11.6" fill="#46443a"/><rect x="535.35" y="1096.32" width="9.4" height="8.4" fill="#f8fcee"/><rect x="497.65" y="1108.96" width="12.6" height="11.6" fill="#46443a"/><rect x="499.25" y="1110.56" width="9.4" height="8.4" fill="#f8fcee"/><rect x="515.70" y="1108.96" width="12.6" height="11.6" fill="#46443a"/><rect x="517.30" y="1110.56" width="9.4" height="8.4" fill="#f8fcee"/><rect x="533.75" y="1108.96" width="12.6" height="11.6" fill="#46443a"/><rect x="535.35" y="1110.56" width="9.4" height="8.4" fill="#f8fcee"/><rect x="497.65" y="1123.20" width="12.6" height="11.6" fill="#46443a"/><rect x="499.25" y="1124.80" width="9.4" height="8.4" fill="#f8fcee"/><rect x="515.70" y="1123.20" width="12.6" height="11.6" fill="#46443a"/><rect x="517.30" y="1124.80" width="9.4" height="8.4" fill="#f8fcee"/><rect x="533.75" y="1123.20" width="12.6" height="11.6" fill="#46443a"/><rect x="535.35" y="1124.80" width="9.4" height="8.4" fill="#f8fcee"/>
<path d="M582,1062.0 C582,988.0 630,974.0 637,974.0 C644,974.0 692,988.0 692,1062.0 L692,1125.0 C692,1199.0 651,1213.0 637,1213.0 C623,1213.0 582,1199.0 582,1125.0 Z" fill="#0e0e0e"/><path d="M584.6,1062.0 C584.6,991.0 630,977.2 637,977.2 C644,977.2 689.4,991.0 689.4,1062.0 L689.4,1125.0 C689.4,1196.0 651,1209.8 637,1209.8 C623,1209.8 584.6,1196.0 584.6,1125.0 Z" fill="url(#pod)"/><path d="M584.6,1062.0 C584.6,991.0 630,977.2 637,977.2 C644,977.2 689.4,991.0 689.4,1062.0 L689.4,1125.0 C689.4,1196.0 651,1209.8 637,1209.8 C623,1209.8 584.6,1196.0 584.6,1125.0 Z" fill="url(#podsh)"/><circle cx="637.5" cy="988" r="8" fill="#0b0b0b"/><circle cx="637.5" cy="988.6" r="5" fill="#141414"/><circle cx="637.5" cy="1198" r="7.4" fill="#0b0b0b"/><circle cx="637.5" cy="1198.6" r="4.5" fill="#141414"/><rect x="599.4" y="1022.9" width="75.2" height="141.7" rx="37.6" ry="39.6" fill="#262628"/><rect x="601.0" y="1024.5" width="72" height="138.5" rx="36" ry="38" fill="url(#lens)"/><rect x="601.0" y="1024.5" width="72" height="138.5" rx="36" ry="38" fill="url(#lenssh)"/><path d="M651,1026.5 C667,1034.5 672,1054.5 672,1069.5 L672,1099.5 C657,1134.5 637,1149.5 615,1156.5 Z" fill="#fff" opacity="0.035"/><rect x="612.85" y="1052.00" width="12.6" height="11.6" fill="#46443a"/><rect x="614.45" y="1053.60" width="9.4" height="8.4" fill="#f8fcee"/><rect x="630.90" y="1052.00" width="12.6" height="11.6" fill="#46443a"/><rect x="632.50" y="1053.60" width="9.4" height="8.4" fill="#f8fcee"/><rect x="648.95" y="1052.00" width="12.6" height="11.6" fill="#46443a"/><rect x="650.55" y="1053.60" width="9.4" height="8.4" fill="#f8fcee"/><rect x="612.85" y="1066.24" width="12.6" height="11.6" fill="#46443a"/><rect x="614.45" y="1067.84" width="9.4" height="8.4" fill="#f8fcee"/><rect x="630.90" y="1066.24" width="12.6" height="11.6" fill="#46443a"/><rect x="632.50" y="1067.84" width="9.4" height="8.4" fill="#f8fcee"/><rect x="648.95" y="1066.24" width="12.6" height="11.6" fill="#46443a"/><rect x="650.55" y="1067.84" width="9.4" height="8.4" fill="#f8fcee"/><rect x="612.85" y="1080.48" width="12.6" height="11.6" fill="#46443a"/><rect x="614.45" y="1082.08" width="9.4" height="8.4" fill="#f8fcee"/><rect x="630.90" y="1080.48" width="12.6" height="11.6" fill="#46443a"/><rect x="632.50" y="1082.08" width="9.4" height="8.4" fill="#f8fcee"/><rect x="648.95" y="1080.48" width="12.6" height="11.6" fill="#46443a"/><rect x="650.55" y="1082.08" width="9.4" height="8.4" fill="#f8fcee"/><rect x="612.85" y="1094.72" width="12.6" height="11.6" fill="#46443a"/><rect x="614.45" y="1096.32" width="9.4" height="8.4" fill="#f8fcee"/><rect x="630.90" y="1094.72" width="12.6" height="11.6" fill="#46443a"/><rect x="632.50" y="1096.32" width="9.4" height="8.4" fill="#f8fcee"/><rect x="648.95" y="1094.72" width="12.6" height="11.6" fill="#46443a"/><rect x="650.55" y="1096.32" width="9.4" height="8.4" fill="#f8fcee"/><rect x="612.85" y="1108.96" width="12.6" height="11.6" fill="#46443a"/><rect x="614.45" y="1110.56" width="9.4" height="8.4" fill="#f8fcee"/><rect x="630.90" y="1108.96" width="12.6" height="11.6" fill="#46443a"/><rect x="632.50" y="1110.56" width="9.4" height="8.4" fill="#f8fcee"/><rect x="648.95" y="1108.96" width="12.6" height="11.6" fill="#46443a"/><rect x="650.55" y="1110.56" width="9.4" height="8.4" fill="#f8fcee"/><rect x="612.85" y="1123.20" width="12.6" height="11.6" fill="#46443a"/><rect x="614.45" y="1124.80" width="9.4" height="8.4" fill="#f8fcee"/><rect x="630.90" y="1123.20" width="12.6" height="11.6" fill="#46443a"/><rect x="632.50" y="1124.80" width="9.4" height="8.4" fill="#f8fcee"/><rect x="648.95" y="1123.20" width="12.6" height="11.6" fill="#46443a"/><rect x="650.55" y="1124.80" width="9.4" height="8.4" fill="#f8fcee"/>
<rect x="1360.5" y="1017" width="79.5" height="14" fill="#232323"/>
<rect x="1355" y="1030.7" width="90.6" height="77.5" rx="1" fill="url(#spl)"/>
<rect x="1355" y="1030.7" width="90.6" height="77.5" rx="1" fill="url(#splhl)"/>
<rect x="1368" y="1048" width="64" height="35" fill="#2e2e2e" opacity="0.6"/>
<line x1="1368.5" y1="1049.5" x2="1431.5" y2="1049.5" stroke="#1c1c1c" stroke-width="1.1"/>
<line x1="1368.5" y1="1053.6" x2="1431.5" y2="1053.6" stroke="#1c1c1c" stroke-width="1.1"/>
<line x1="1368.5" y1="1057.7" x2="1431.5" y2="1057.7" stroke="#1c1c1c" stroke-width="1.1"/>
<line x1="1368.5" y1="1061.8" x2="1431.5" y2="1061.8" stroke="#1c1c1c" stroke-width="1.1"/>
<line x1="1368.5" y1="1065.9" x2="1431.5" y2="1065.9" stroke="#1c1c1c" stroke-width="1.1"/>
<line x1="1368.5" y1="1070.0" x2="1431.5" y2="1070.0" stroke="#1c1c1c" stroke-width="1.1"/>
<line x1="1368.5" y1="1074.1" x2="1431.5" y2="1074.1" stroke="#1c1c1c" stroke-width="1.1"/>
<line x1="1368.5" y1="1078.2" x2="1431.5" y2="1078.2" stroke="#1c1c1c" stroke-width="1.1"/>
<line x1="1368.5" y1="1082.3" x2="1431.5" y2="1082.3" stroke="#1c1c1c" stroke-width="1.1"/>
<path d="M1355,1107.8 L1445.6,1107.8 L1417.5,1134.5 L1382.5,1134.5 Z" fill="url(#spl2)"/>
<rect x="1383" y="1133.5" width="34" height="19.5" rx="3" fill="#121212"/>
<rect x="1386.5" y="1136.8" width="6" height="1.8" fill="#9a9a9a"/><rect x="1397" y="1136.8" width="15" height="1.8" fill="#7a7a7a"/>
<rect x="1386.5" y="1142" width="6" height="1.8" fill="#9a9a9a"/><rect x="1397" y="1142" width="15" height="1.8" fill="#7a7a7a"/>
<rect x="1386.5" y="1146.8" width="6" height="1.8" fill="#9a9a9a"/><rect x="1397" y="1146.8" width="15" height="1.8" fill="#7a7a7a"/>
<rect x="1386.5" y="1151" width="6" height="1.8" fill="#9a9a9a"/><rect x="1397" y="1151" width="15" height="1.8" fill="#7a7a7a"/>
<path d="M1398.8,1150 L1398.8,1299 A30,21 0 0 1 1368.8,1319.8 L1064,1319.8" fill="none" stroke="#070707" stroke-width="11" stroke-linejoin="round"/>
<path d="M1398.8,1150 L1398.8,1299 A30,21 0 0 1 1368.8,1319.8 L1064,1319.8" fill="none" stroke="#191919" stroke-width="6.82" stroke-linejoin="round"/>
<path d="M1398.8,1150 L1398.8,1299 A30,21 0 0 1 1368.8,1319.8 L1064,1319.8" fill="none" stroke="#3b3b3b" stroke-width="2.4" stroke-linejoin="round"/>
<path d="M736.2,726.5 L1215.5,726.7 A18,18 0 0 1 1233.8,745 L1234,1308.7 A17,17 0 0 1 1217,1325.7 L1064,1325.7" fill="none" stroke="#070707" stroke-width="8.2" stroke-linejoin="round"/>
<path d="M736.2,726.5 L1215.5,726.7 A18,18 0 0 1 1233.8,745 L1234,1308.7 A17,17 0 0 1 1217,1325.7 L1064,1325.7" fill="none" stroke="#191919" stroke-width="5.08" stroke-linejoin="round"/>
<path d="M736.2,726.5 L1215.5,726.7 A18,18 0 0 1 1233.8,745 L1234,1308.7 A17,17 0 0 1 1217,1325.7 L1064,1325.7" fill="none" stroke="#3b3b3b" stroke-width="2.4" stroke-linejoin="round"/>
<line x1="691.6" y1="725.9" x2="736.2" y2="725.9" stroke="#d4d4d4" stroke-width="1.3"/><line x1="691.6" y1="727.4" x2="736.2" y2="727.4" stroke="#bcbcbc" stroke-width="1.3"/>
<path d="M977,828.8 L1207,829 A14,14 0 0 1 1221,843 L1221,1293.2 A18.5,18.5 0 0 1 1202.5,1311.7 L1064,1311.7" fill="none" stroke="#e3161e" stroke-width="7.6" stroke-linejoin="round"/>
<path d="M977,828.8 L1207,829 A14,14 0 0 1 1221,843 L1221,1293.2 A18.5,18.5 0 0 1 1202.5,1311.7 L1064,1311.7" fill="none" stroke="#ff3a3a" stroke-width="2" stroke-linejoin="round"/>
<path d="M732,833 L826,833" fill="none" stroke="#e3161e" stroke-width="8"/>
<path d="M732,833 L826,833" fill="none" stroke="#ff3a3a" stroke-width="2.2"/>
<line x1="688.5" y1="831.6" x2="732" y2="831.6" stroke="#d4d4d4" stroke-width="1.3"/><line x1="688.5" y1="833.1" x2="732" y2="833.1" stroke="#bcbcbc" stroke-width="1.3"/>
<path d="M854.6,803.9 C843.5,797.2 834.7,786.2 823.6,786.2 C812.6,786.2 810.4,797.2 817,800.6 C823.6,803.9 834.7,801.7 839.1,811.6" fill="none" stroke="#141414" stroke-width="3.8"/>
<path d="M866,752 L932,752 Q939,752 940,759 L945.5,810.5 L854.5,810.5 L859,759 Q860,752 866,752 Z" fill="url(#fcap)"/>
<rect x="868" y="765.2" width="64" height="3.6" rx="1.5" fill="#111" opacity="0.9"/>
<rect x="868" y="772.7" width="64" height="3.6" rx="1.5" fill="#111" opacity="0.9"/>
<rect x="868" y="780.2" width="64" height="3.6" rx="1.5" fill="#111" opacity="0.9"/>
<rect x="868" y="787.7" width="64" height="3.6" rx="1.5" fill="#111" opacity="0.9"/>
<rect x="868" y="795.2" width="64" height="3.6" rx="1.5" fill="#111" opacity="0.9"/>
<rect x="868" y="802.7" width="64" height="3.6" rx="1.5" fill="#111" opacity="0.9"/>
<path d="M832,811.4 L848,811.4 L848,844.9 L832,844.9 Q824,844.9 824,836 L824,820 Q824,811.4 832,811.4 Z" fill="url(#fend)"/>
<path d="M955,810.7 L970,810.7 Q978.3,810.7 978.3,819 L978.3,836 Q978.3,844.9 970,844.9 L955,844.9 Z" fill="url(#fend)"/>
<rect x="848" y="809.5" width="107.2" height="44.2" rx="2.5" fill="url(#fcap)"/>
<rect x="861" y="818.0" width="80" height="3.6" rx="1.5" fill="#101010"/>
<rect x="861" y="825.6" width="80" height="3.6" rx="1.5" fill="#101010"/>
<rect x="861" y="833.2" width="80" height="3.6" rx="1.5" fill="#101010"/>
<path d="M355,1328.9 L898,1328.5" fill="none" stroke="#070707" stroke-width="12" stroke-linejoin="round"/>
<path d="M355,1328.9 L898,1328.5" fill="none" stroke="#191919" stroke-width="7.44" stroke-linejoin="round"/>
<path d="M355,1328.9 L898,1328.5" fill="none" stroke="#3b3b3b" stroke-width="2.8" stroke-linejoin="round"/>
<path d="M115,1287.5 Q221,1279 328,1285.5 Q345.3,1286.5 345.3,1303 L345.3,1359 Q345.3,1375.5 328,1376.8 Q221,1384.2 115,1375.8 Q97.4,1374.5 97.4,1357 L97.4,1306 Q97.4,1289 115,1287.5 Z" fill="url(#rem)" stroke="#1e1e1e" stroke-width="1.3"/>
<path d="M135,1305.2 L306.5,1305.4 Q311.7,1305.4 311.7,1311 L311.7,1351 Q311.7,1356.8 306.5,1356.8 L135,1356.8 Q129.3,1356.8 129.3,1351 L129.3,1311 Q129.3,1305.2 135,1305.2 Z" fill="url(#remp)" stroke="#3a383c" stroke-width="1.3"/>
<circle cx="185.6" cy="1330.8" r="15" fill="none" stroke="#4a484c" stroke-width="1.2"/>
<circle cx="185.6" cy="1330.8" r="12.6" fill="#58565a" stroke="#262428" stroke-width="1.6"/>
<circle cx="279.8" cy="1330.2" r="16.4" fill="none" stroke="#4c5050" stroke-width="1.2"/>
<circle cx="279.8" cy="1330.2" r="10.8" fill="#740b0b" stroke="#8a4040" stroke-width="1"/>
<rect x="278.6" y="1328.6" width="2.6" height="2.2" fill="#ffe8e0"/><rect x="278.2" y="1334.9" width="4" height="2.2" fill="#ffe8e0"/>
<path d="M344.5,1314.1 L358,1314.1 Q361.4,1314.1 361.4,1318 L361.4,1344 Q361.4,1348 358,1348 L344.5,1348 Z" fill="#121212"/>
<rect x="345" y="1328" width="16" height="2.2" fill="#3e3e3e"/><rect x="345" y="1338" width="16" height="2.2" fill="#3e3e3e"/>
<rect x="895.8" y="1299.6" width="35.5" height="42.7" rx="5" fill="#484848" stroke="#151515" stroke-width="1.2"/>
<rect x="901.2" y="1300.5" width="2.6" height="41" fill="#0e0e0e"/>
<rect x="907.7" y="1300.5" width="2.6" height="41" fill="#0e0e0e"/>
<rect x="915" y="1300.5" width="3.8" height="41" fill="#0e0e0e"/>
<path d="M960,1285.2 L1049,1285.2 Q1052.5,1285.2 1052.5,1289 L1052.5,1354 Q1052.5,1357.4 1049,1357.4 L960,1357.4 C940,1357.4 936,1343 930,1340 L930,1304 C936,1300 940,1285.2 960,1285.2 Z" fill="url(#cc)" stroke="#1a1a1a" stroke-width="1"/>
<path d="M975,1295 L1052,1295 L1052,1347.5 L975,1347.5 C962,1347.5 957,1340 957,1330 L957,1312 C957,1302 962,1295 975,1295 Z" fill="#3c3c3c"/>
<line x1="970.0" y1="1298" x2="970.0" y2="1344" stroke="#353535" stroke-width="1.2"/>
<line x1="974.6" y1="1298" x2="974.6" y2="1344" stroke="#353535" stroke-width="1.2"/>
<line x1="979.2" y1="1298" x2="979.2" y2="1344" stroke="#353535" stroke-width="1.2"/>
<line x1="983.8" y1="1298" x2="983.8" y2="1344" stroke="#353535" stroke-width="1.2"/>
<line x1="988.4" y1="1298" x2="988.4" y2="1344" stroke="#353535" stroke-width="1.2"/>
<line x1="993.0" y1="1298" x2="993.0" y2="1344" stroke="#353535" stroke-width="1.2"/>
<line x1="997.6" y1="1298" x2="997.6" y2="1344" stroke="#353535" stroke-width="1.2"/>
<line x1="1002.2" y1="1298" x2="1002.2" y2="1344" stroke="#353535" stroke-width="1.2"/>
<line x1="1006.8" y1="1298" x2="1006.8" y2="1344" stroke="#353535" stroke-width="1.2"/>
<line x1="1011.4" y1="1298" x2="1011.4" y2="1344" stroke="#353535" stroke-width="1.2"/>
<circle cx="963.9" cy="1310.7" r="2" fill="#0e0e0e"/>
<circle cx="1005.8" cy="1312.9" r="2" fill="#0e0e0e"/>
<circle cx="984.9" cy="1328.5" r="2" fill="#0e0e0e"/>
<circle cx="963.9" cy="1346.7" r="2" fill="#0e0e0e"/>
<circle cx="1005.8" cy="1345.7" r="2" fill="#0e0e0e"/>
<rect x="1052" y="1294.3" width="13.6" height="53.2" rx="3" fill="#333" stroke="#1a1a1a" stroke-width="1"/>
<path d="M833,420.8 L684.5,420.8 A18,18 0 0 0 666.5,438.8 L666.5,974.5" fill="none" stroke="#dd9d40" stroke-width="3"/>
<path d="M833,412 L833,429.5" fill="none" stroke="#dd9d40" stroke-width="3"/>
<path d="M658,974.5 L677,974.5" fill="none" stroke="#dd9d40" stroke-width="3"/>
<path d="M1040.3,421.5 L1320,421.5 A28,28 0 0 1 1348,449.5 L1348,1016.4" fill="none" stroke="#dd9d40" stroke-width="3"/>
<path d="M1040.3,412.5 L1040.3,430.5" fill="none" stroke="#dd9d40" stroke-width="3"/>
<path d="M1339,1016.4 L1358,1016.4" fill="none" stroke="#dd9d40" stroke-width="3"/>
<path d="M732.4,862.5 L1184,862.5 A18,18 0 0 1 1202,880.5 L1202,1261 A18,18 0 0 1 1184,1279 L1065.4,1279" fill="none" stroke="#dd9d40" stroke-width="3"/>
<path d="M732.4,851 L732.4,874" fill="none" stroke="#dd9d40" stroke-width="3"/>
<path d="M1065.4,1269.5 L1065.4,1287" fill="none" stroke="#dd9d40" stroke-width="3"/>
<path d="M358.2,1279.4 L895.2,1279.4" fill="none" stroke="#dd9d40" stroke-width="3"/>
<path d="M358.2,1270 L358.2,1289" fill="none" stroke="#dd9d40" stroke-width="3"/>
<path d="M895.2,1269 L895.2,1288" fill="none" stroke="#dd9d40" stroke-width="3"/>
<path d="M1074.4,1342.2 L1395.5,1342.2 A22,22 0 0 0 1417.6,1320 L1417.6,1154.3" fill="none" stroke="#dd9d40" stroke-width="3"/>
<path d="M1074.4,1333 L1074.4,1351.5" fill="none" stroke="#dd9d40" stroke-width="3"/>
<path d="M1408.4,1154.3 L1427,1154.3" fill="none" stroke="#dd9d40" stroke-width="3"/>
<text transform="translate(673.66,586.90) scale(0.9226,1)" font-size="38.63">118 in</text>
<text transform="translate(1142.45,461.20) scale(0.9926,1)" font-size="33.97">7.87 in</text>
<text transform="translate(937.73,902.00) scale(0.9193,1)" font-size="35.07">21 in</text>
<text transform="translate(655.85,1269.00) scale(1.0213,1)" font-size="34.25">53 in</text>
<text transform="translate(1178.53,1378.10) scale(0.9947,1)" font-size="34.38">78.74 in</text>
</svg></body></html>
